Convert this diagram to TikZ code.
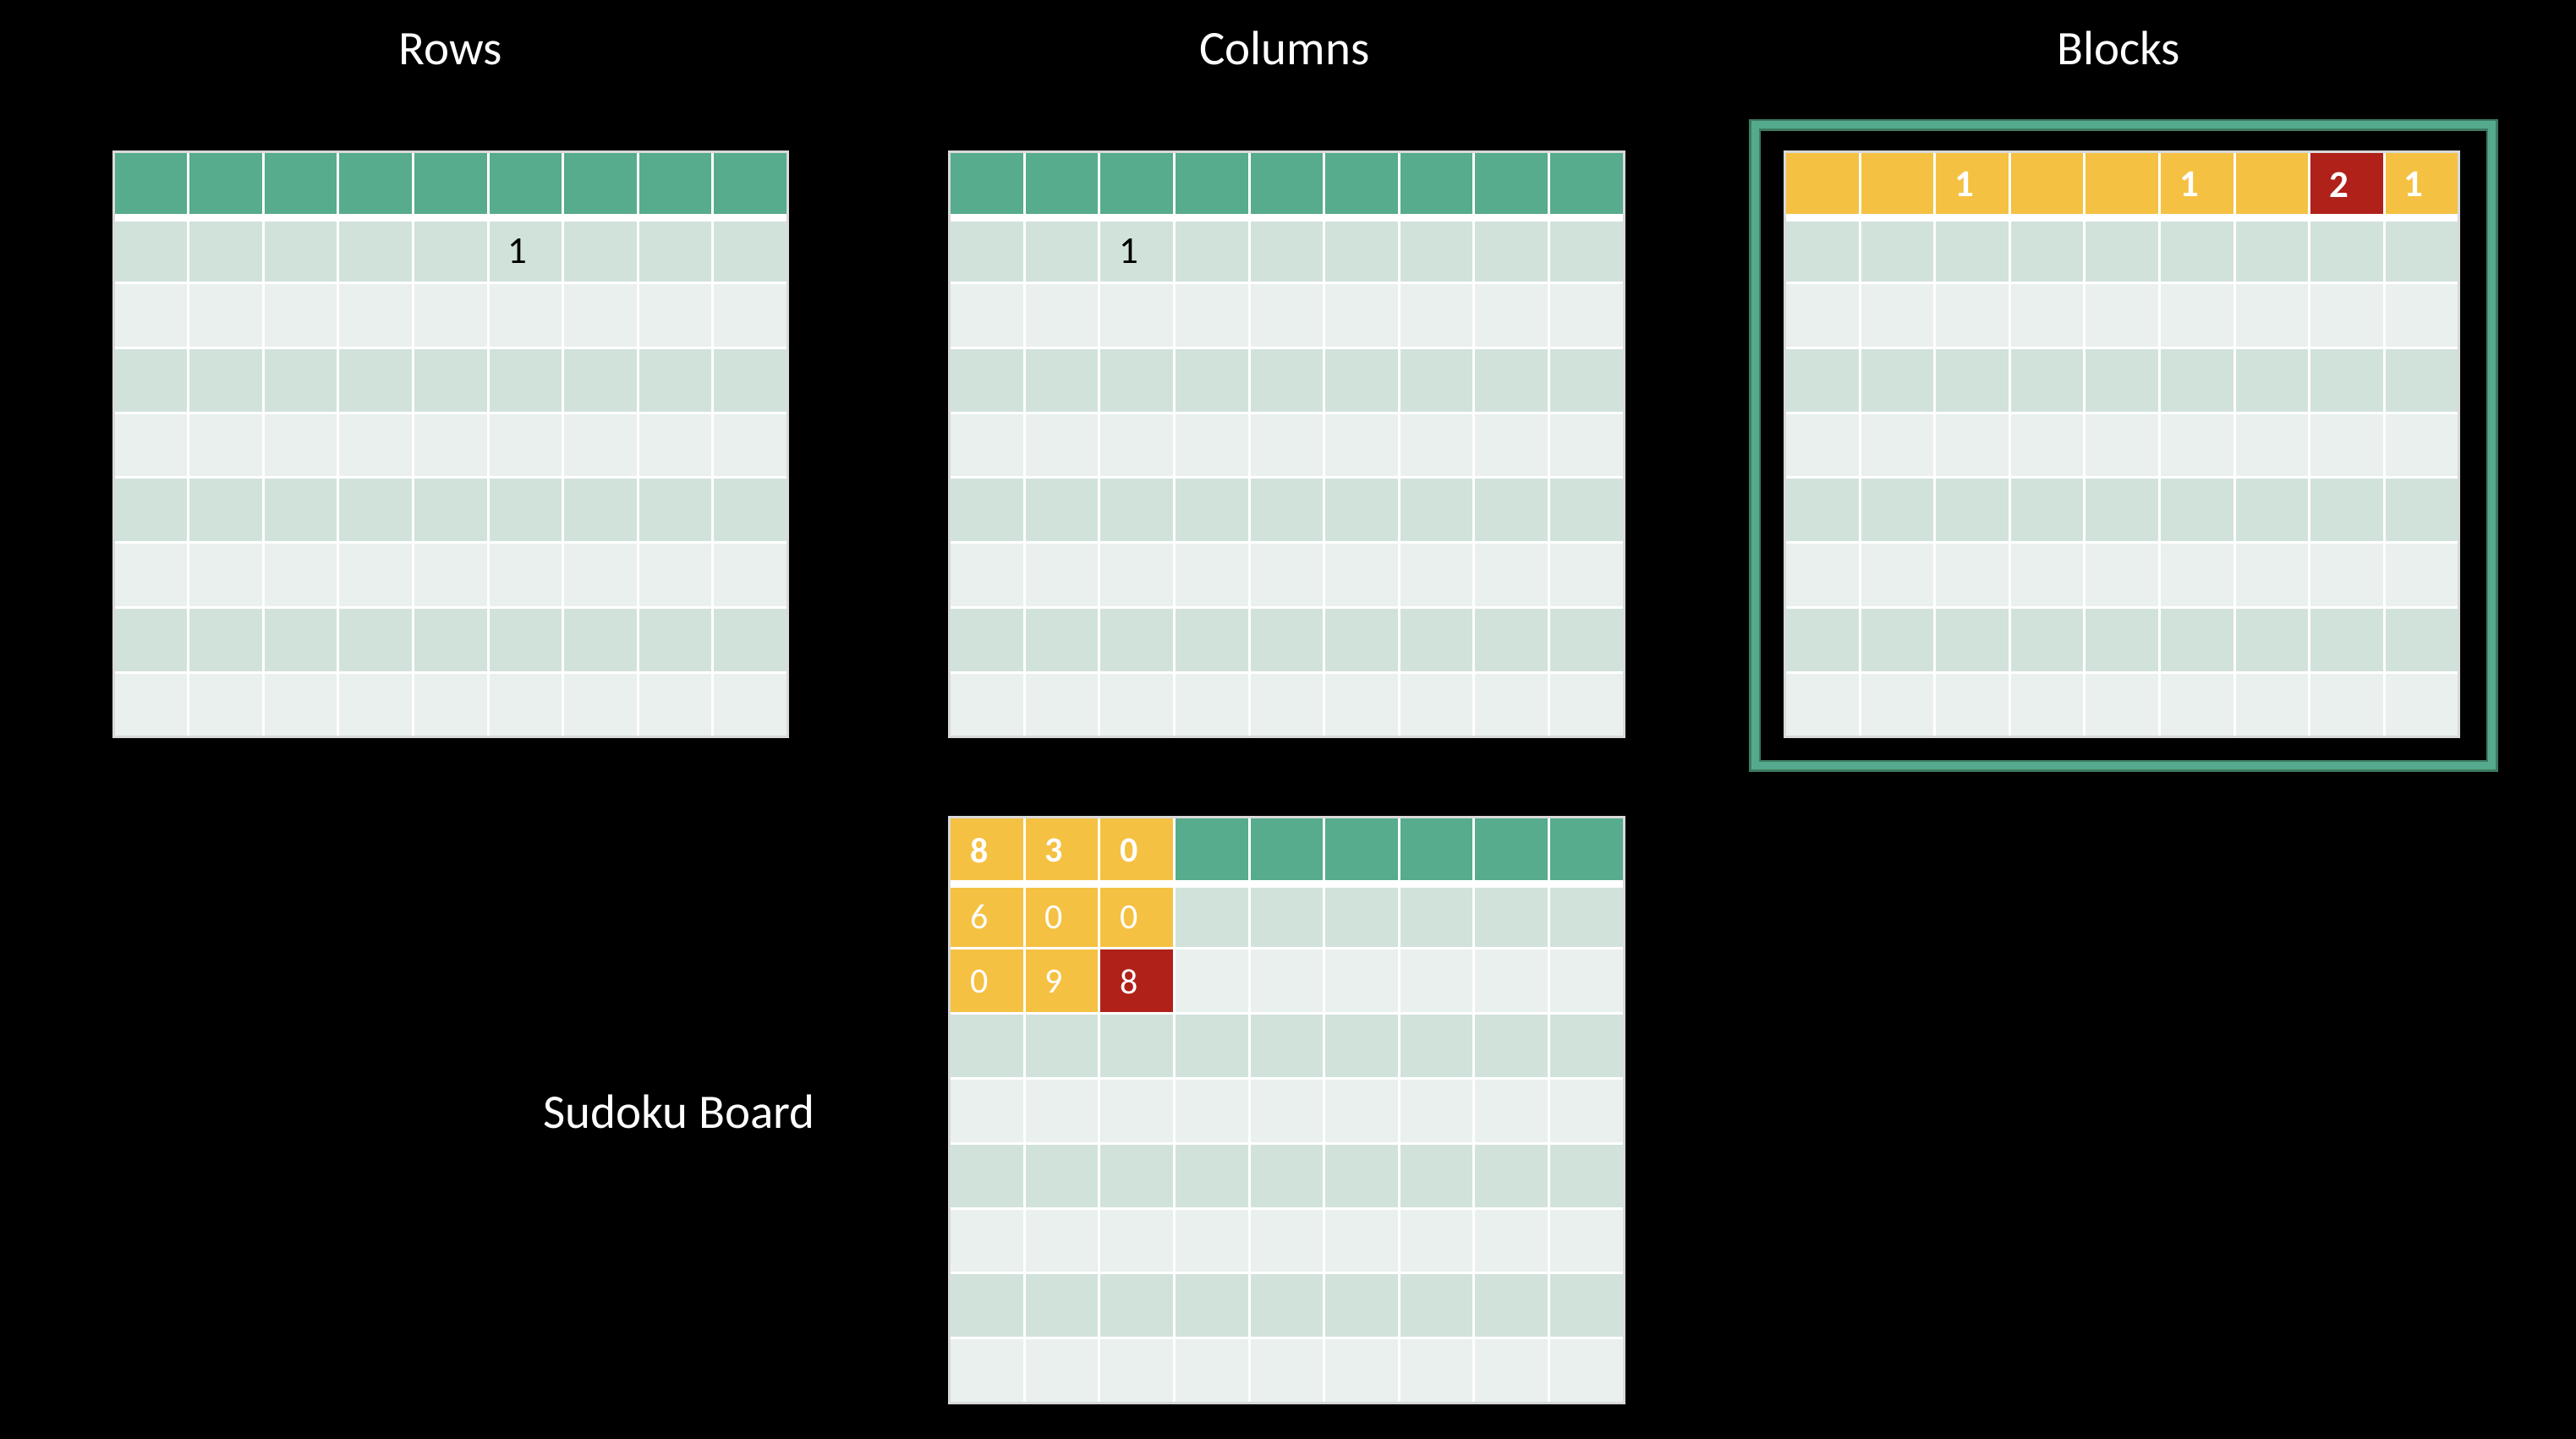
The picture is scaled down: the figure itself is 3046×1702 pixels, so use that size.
\documentclass[tikz,border=0pt]{standalone}
\usepackage{fontspec}
\setmainfont{Carlito}
\definecolor{hdr}{HTML}{56AC8D}
\definecolor{rowA}{HTML}{D1E2DB}
\definecolor{rowB}{HTML}{E9F0ED}
\definecolor{ylw}{HTML}{F5C142}
\definecolor{rd}{HTML}{AF2119}
\definecolor{frm}{HTML}{55AA8D}
\definecolor{frmdark}{HTML}{3D7A61}
\newcommand\cw{88.6}
\newcommand\rh{76.76}
\newcommand\hh{78.5}
% background bands of a 9x9 table
\newcommand\sgrid[2]{%
  \fill[hdr] (#1,#2) rectangle ++(9*\cw,\hh);
  \foreach \r in {1,...,8}{%
    \pgfmathsetmacro\ya{#2+\hh+(\r-1)*\rh}
    \pgfmathtruncatemacro\odd{mod(\r,2)}
    \ifnum\odd=1 \fill[rowA] (#1,\ya) rectangle ++(9*\cw,\rh);\else \fill[rowB] (#1,\ya) rectangle ++(9*\cw,\rh);\fi
  }%
}
% white cell lines and outer border
\newcommand\sgridlines[2]{%
  \foreach \c in {1,...,8}{\draw[cellline] (#1+\c*\cw,#2) -- ++(0,\hh+8*\rh);}
  \foreach \r in {2,...,8}{\draw[cellline] (#1,#2+\hh+\r*\rh-\rh) -- ++(9*\cw,0);}
  \draw[cellline,line width=9] (#1,#2+\hh) -- ++(9*\cw,0);
  \draw[gridborder] (#1,#2) rectangle ++(9*\cw,\hh+8*\rh);
}
% coloured cell: x0, y0, col, row, colour
\newcommand\cellfill[5]{%
  \pgfmathsetmacro\rtop{#2+(#4>0)*(\hh+(#4-1)*\rh)}
  \pgfmathsetmacro\rhh{(#4>0)?\rh:\hh}
  \fill[#5] (#1+#3*\cw,\rtop) rectangle ++(\cw,\rhh);
}
% text in cell: x0, y0, col, row, style, name, text
\newcommand\celltext[7]{%
  \pgfmathsetmacro\tx{#1+#3*\cw+35}
  \pgfmathsetmacro\ty{(#4>0)?(#2+\hh+(#4-1)*\rh+\rh/2+1):(#2+39)}
  \node[#5] (#6) at (\tx,\ty) {#7};
}
\tikzset{
  cellline/.style={draw=white,line width=3},
  gridborder/.style={draw=gray!30!white,line width=3},
  title/.style={text=white,font=\fontsize{57}{60}\selectfont,anchor=base,inner sep=0},
  digblack/.style={text=black,font=\fontsize{45}{48}\selectfont,inner sep=0,anchor=center},
  digbold/.style={text=white,font=\fontsize{45}{48}\selectfont\bfseries,inner sep=0,anchor=center},
  sbold/.style={text=white,font=\fontsize{42}{46}\selectfont\bfseries,inner sep=0,anchor=center},
  sreg/.style={text=white,font=\fontsize{42}{46}\selectfont,inner sep=0,anchor=center},
}
\begin{document}
\begin{tikzpicture}[x=1pt,y=-1pt]
\fill[black] (0,0) rectangle (3046,1702);
\useasboundingbox (0,0) rectangle (3046,1702);

% titles
\node[title] (trows) at (533,77) {Rows};
\node[title] (tcols) at (1519,77) {Columns};
\node[title] (tblocks) at (2505,77) {Blocks};
\node[title] (tboard) at (803,1334) {Sudoku Board};

% Rows grid
\sgrid{134}{179.3}
\sgridlines{134}{179.3}
\celltext{134}{179.3}{5}{1}{digblack}{rowone}{1}

% Columns grid
\sgrid{1122.7}{179.3}
\sgridlines{1122.7}{179.3}
\celltext{1122.7}{179.3}{2}{1}{digblack}{colone}{1}

% Blocks grid
\draw[frmdark,line width=14] (2075,147.5) rectangle (2946.5,905.5);
\draw[frm,line width=9] (2075,147.5) rectangle (2946.5,905.5);
\sgrid{2110.5}{179.3}
\foreach \c in {0,1,2,3,4,5,6,8}{\cellfill{2110.5}{179.3}{\c}{0}{ylw}}
\cellfill{2110.5}{179.3}{7}{0}{rd}
\sgridlines{2110.5}{179.3}
\celltext{2110.5}{179.3}{2}{0}{digbold}{bA}{1}
\celltext{2110.5}{179.3}{5}{0}{digbold}{bB}{1}
\celltext{2110.5}{179.3}{7}{0}{digbold}{bC}{2}
\celltext{2110.5}{179.3}{8}{0}{digbold}{bD}{1}

% Sudoku board
\sgrid{1122.7}{966.7}
\foreach \c in {0,1,2}{\cellfill{1122.7}{966.7}{\c}{0}{ylw}\cellfill{1122.7}{966.7}{\c}{1}{ylw}}
\cellfill{1122.7}{966.7}{0}{2}{ylw}
\cellfill{1122.7}{966.7}{1}{2}{ylw}
\cellfill{1122.7}{966.7}{2}{2}{rd}
\sgridlines{1122.7}{966.7}
\celltext{1122.7}{966.7}{0}{0}{sbold}{sA}{8}
\celltext{1122.7}{966.7}{1}{0}{sbold}{sB}{3}
\celltext{1122.7}{966.7}{2}{0}{sbold}{sC}{0}
\celltext{1122.7}{966.7}{0}{1}{sreg}{sD}{6}
\celltext{1122.7}{966.7}{1}{1}{sreg}{sE}{0}
\celltext{1122.7}{966.7}{2}{1}{sreg}{sF}{0}
\celltext{1122.7}{966.7}{0}{2}{sreg}{sG}{0}
\celltext{1122.7}{966.7}{1}{2}{sreg}{sH}{9}
\celltext{1122.7}{966.7}{2}{2}{sreg}{sI}{8}
\end{tikzpicture}
\end{document}
